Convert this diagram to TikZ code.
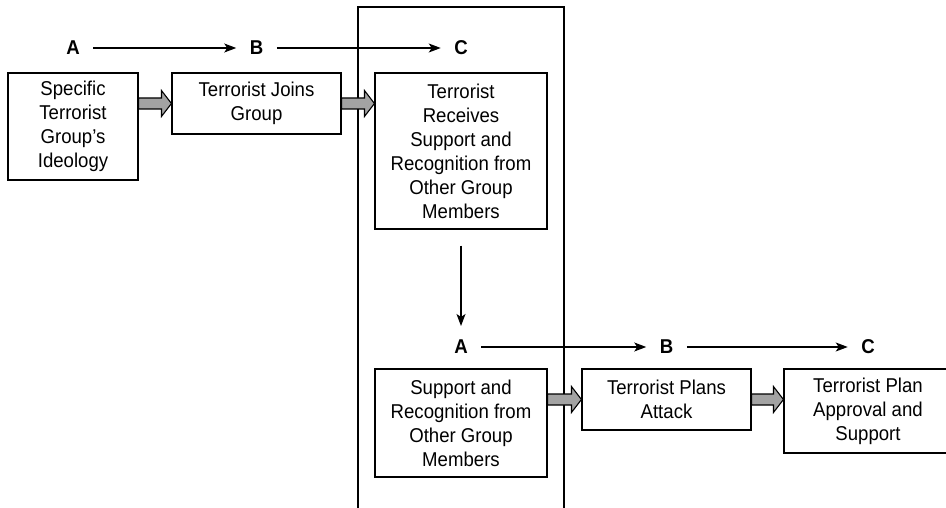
\documentclass[tikz,border=0pt]{standalone}
\usepackage{fontspec}
\setmainfont{Liberation Sans}[FakeStretch=0.93]
\usetikzlibrary{arrows.meta,calc}
\definecolor{arrowgray}{gray}{0.64}
\tikzset{
  stagebox/.style={draw,line width=1.1pt,inner sep=0pt,align=center,
    font=\fontsize{20}{24}\selectfont},
  letter/.style={inner sep=0pt,font=\fontsize{20}{24}\selectfont\bfseries},
  fatarrow/.style={draw,line width=1.1pt,fill=arrowgray,line join=miter}
}
% gray block arrow from #1 to #2, at the height of the centre of #3
\newcommand{\blockarrow}[3]{%
  \draw[fatarrow] ($(#1.east |- #3)+(0,-5.5)$) -- ($(#2.west |- #3)+(-10,-5.5)$)
    -- ($(#2.west |- #3)+(-10,-13)$) -- (#2.west |- #3) -- ($(#2.west |- #3)+(-10,13)$)
    -- ($(#2.west |- #3)+(-10,5.5)$) -- ($(#1.east |- #3)+(0,5.5)$) -- cycle;}
\begin{document}
\begin{tikzpicture}[x=1pt,y=-1pt,>={Stealth[length=12pt,width=9pt,inset=3pt]},line width=1.1pt]
\useasboundingbox (0,0) rectangle (946,508);
\def\ra{48}
\def\rb{347}
% frame round the middle column
\draw (358,530) -- (358,7) -- (564,7) -- (564,530);
\begin{scope}
\coordinate (a1) at (73,\ra);
\coordinate (b1) at (256.5,\ra);
\coordinate (c1) at (461,\ra);
\coordinate (s1) at (73,126.5);
\coordinate (s2) at (256.5,103.5);
\coordinate (s3) at (461,151);
\node[letter] (la1) at (a1) {A};
\node[letter] (lb1) at (b1) {B};
\node[letter] (lc1) at (c1) {C};
\node[stagebox,minimum width=130,minimum height=107] (ideology) at (s1)
  {Specific\\Terrorist\\Group’s\\Ideology};
\node[stagebox,minimum width=169,minimum height=61] (joins) at (s2)
  {Terrorist Joins\\Group};
\node[stagebox,minimum width=172,minimum height=156] (receives) at (s3)
  {Terrorist\\Receives\\Support and\\Recognition from\\Other Group\\Members};
\draw[->,shorten >= 13pt,shorten <= 13pt] (la1) -- (lb1);
\draw[->,shorten >= 13pt,shorten <= 13pt] (lb1) -- (lc1);
\blockarrow{ideology}{joins}{joins}
\blockarrow{joins}{receives}{joins}
\end{scope}
\begin{scope}
\coordinate (a2) at (461,\rb);
\coordinate (b2) at (666.5,\rb);
\coordinate (c2) at (868,\rb);
\coordinate (s4) at (461,423);
\coordinate (s5) at (666.5,399.5);
\coordinate (s6) at (868,411);
\node[letter] (la2) at (a2) {A};
\node[letter] (lb2) at (b2) {B};
\node[letter] (lc2) at (c2) {C};
\node[stagebox,minimum width=172,minimum height=108] (recognition) at (s4)
  {Support and\\Recognition from\\Other Group\\Members};
\node[stagebox,minimum width=169,minimum height=61] (plans) at (s5)
  {Terrorist Plans\\Attack};
\node[stagebox,minimum width=168,minimum height=84] (approval) at (s6)
  {Terrorist Plan\\Approval and\\Support};
\draw[->,shorten >= 21pt,shorten <= 16pt] (receives.south) -- (la2.center);
\draw[->,shorten >= 13pt,shorten <= 13pt] (la2) -- (lb2);
\draw[->,shorten >= 13pt,shorten <= 13pt] (lb2) -- (lc2);
\blockarrow{recognition}{plans}{plans}
\blockarrow{plans}{approval}{plans}
\end{scope}
\end{tikzpicture}
\end{document}
